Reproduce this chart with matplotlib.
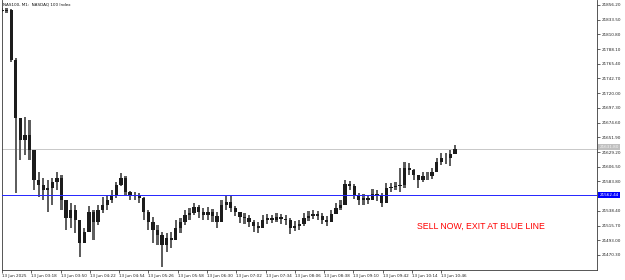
import matplotlib
matplotlib.use('Agg')
import matplotlib.pyplot as plt
import numpy as np
from matplotlib.transforms import blended_transform_factory

# ---------------- data ----------------
symbol_title = "NAS100, M1:  NASDAQ 100 Index"
bar_minutes = 5
first_open = 21848.5
closes = [21846.9, 21848.5, 21771.3, 21681.7, 21647.7, 21655.5, 21632.3, 21586.0, 21578.2, 21570.5,
          21573.6, 21582.9, 21589.1, 21555.1, 21527.3, 21539.6, 21524.2, 21488.7, 21505.7, 21536.5,
          21521.1, 21539.6, 21547.4, 21555.1, 21562.8, 21578.2, 21589.1, 21567.4, 21561.3, 21562.8,
          21558.2, 21536.5, 21521.1, 21508.8, 21501.0, 21485.6, 21496.4, 21493.3, 21511.8, 21521.1,
          21531.9, 21535.0, 21544.3, 21536.5, 21531.9, 21536.5, 21530.4, 21521.1, 21547.4, 21552.0,
          21542.7, 21536.5, 21528.8, 21527.3, 21521.1, 21514.9, 21511.8, 21524.2, 21527.3, 21524.2,
          21528.8, 21525.7, 21524.2, 21511.8, 21514.9, 21518.0, 21527.3, 21530.4, 21533.5, 21530.4,
          21524.2, 21521.1, 21533.5, 21542.7, 21547.4, 21579.8, 21576.7, 21562.8, 21555.1, 21558.2,
          21555.1, 21564.3, 21562.8, 21550.4, 21573.6, 21575.2, 21576.7, 21578.2, 21604.5, 21601.4,
          21593.7, 21586.0, 21592.1, 21592.1, 21598.3, 21613.8, 21619.9, 21619.9, 21626.1, 21634.6]
highs = [21851.6, 21851.6, 21850.0, 21774.4, 21666.3, 21683.3, 21678.6, 21632.3, 21598.3, 21589.1,
         21586.0, 21589.1, 21598.3, 21593.7, 21555.1, 21550.4, 21547.4, 21524.2, 21511.8, 21545.8,
         21539.6, 21547.4, 21559.7, 21562.8, 21570.5, 21582.9, 21596.8, 21592.1, 21569.0, 21567.4,
         21565.9, 21559.7, 21539.6, 21528.8, 21516.5, 21505.7, 21504.1, 21505.7, 21524.2, 21527.3,
         21539.6, 21542.7, 21550.4, 21547.4, 21542.7, 21544.3, 21541.2, 21536.5, 21555.1, 21561.3,
         21561.3, 21545.8, 21536.5, 21535.0, 21531.9, 21524.2, 21521.1, 21531.9, 21533.5, 21531.9,
         21535.0, 21533.5, 21531.9, 21527.3, 21522.7, 21524.2, 21535.0, 21538.1, 21539.6, 21538.1,
         21535.0, 21530.4, 21539.6, 21550.4, 21555.1, 21586.0, 21584.4, 21579.8, 21565.9, 21564.3,
         21562.8, 21572.1, 21570.5, 21565.9, 21581.3, 21581.3, 21582.9, 21604.5, 21613.8, 21612.2,
         21603.0, 21593.7, 21598.3, 21598.3, 21604.5, 21619.9, 21627.7, 21627.7, 21632.3, 21640.0]
lows = [21845.4, 21843.8, 21768.2, 21565.9, 21616.9, 21624.6, 21616.9, 21570.5, 21559.7, 21555.1,
        21536.5, 21547.4, 21570.5, 21539.6, 21508.8, 21511.8, 21504.1, 21467.1, 21493.3, 21505.7,
        21493.3, 21516.5, 21535.0, 21539.6, 21550.4, 21558.2, 21576.7, 21562.8, 21555.1, 21555.1,
        21550.4, 21524.2, 21508.8, 21488.7, 21485.6, 21451.6, 21474.8, 21481.0, 21493.3, 21504.1,
        21516.5, 21524.2, 21531.9, 21527.3, 21524.2, 21524.2, 21521.1, 21511.8, 21521.1, 21539.6,
        21536.5, 21530.4, 21519.6, 21518.0, 21513.4, 21505.7, 21504.1, 21514.9, 21518.0, 21519.6,
        21521.1, 21518.0, 21516.5, 21502.6, 21507.2, 21508.8, 21514.9, 21522.7, 21525.7, 21524.2,
        21518.0, 21514.9, 21524.2, 21533.5, 21539.6, 21547.4, 21570.5, 21556.6, 21547.4, 21547.4,
        21548.9, 21555.1, 21553.5, 21544.3, 21550.4, 21567.4, 21570.5, 21567.4, 21573.6, 21593.7,
        21586.0, 21573.6, 21582.9, 21586.0, 21587.5, 21598.3, 21609.1, 21610.7, 21607.6, 21626.1]
time_label_minutes = [0, 32, 64, 96, 128, 160, 192, 224, 256, 288, 320, 352, 384, 416, 448, 480]
time_labels = ["13 Jun 2025", "13 Jun 03:18", "13 Jun 03:50", "13 Jun 04:22", "13 Jun 04:54",
               "13 Jun 05:26", "13 Jun 05:58", "13 Jun 06:30", "13 Jun 07:02", "13 Jun 07:34",
               "13 Jun 08:06", "13 Jun 08:38", "13 Jun 09:10", "13 Jun 09:42", "13 Jun 10:14",
               "13 Jun 10:46"]
price_ticks = [21856.20, 21833.50, 21810.80, 21788.10, 21765.40, 21742.70, 21720.00, 21697.30,
               21674.60, 21651.90, 21629.20, 21606.50, 21583.80, 21538.40, 21515.70, 21493.00,
               21470.30]
exit_level = 21562.44
annotation = "SELL NOW, EXIT AT BLUE LINE"

# ---------------- figure ----------------
W, H = 625, 280
fig = plt.figure(figsize=(W / 100, H / 100), dpi=100)
ax = fig.add_axes([1.7 / W, 10 / H, (597 - 1.7) / W, 270 / H])

n = len(closes)
x = np.arange(n) * bar_minutes
o = np.array([first_open] + closes[:-1])
c = np.array(closes)
hi = np.array(highs)
lo = np.array(lows)

# high-low ranges (grey) and open-close bodies (near black)
ax.bar(x, hi - lo, bottom=lo, width=2.4, color='#5e5e5e', linewidth=0, zorder=2)
ax.bar(x, np.abs(c - o), bottom=np.minimum(o, c), width=3.6,
       color='#1c1c1c', linewidth=0, zorder=3)

ax.set_xlim(-0.33, 650.3)
ax.set_ylim(21447.0, 21863.9)

# horizontal lines
ax.axhline(closes[-1], color='#c8c8c8', lw=0.7, zorder=1)
ax.axhline(exit_level, color='#2424ff', lw=0.7, zorder=4)

# axes styling
for s in ['left', 'right', 'bottom']:
    ax.spines[s].set_color('#3a3a3a')
    ax.spines[s].set_linewidth(0.6)
ax.spines['top'].set_visible(False)

ax.yaxis.tick_right()
ax.set_yticks(price_ticks)
ax.set_yticklabels([f"{v:.2f}" for v in price_ticks])
ax.tick_params(axis='y', direction='out', length=2.2, width=0.5, pad=1, labelsize=3,
               colors='#222222')
ax.set_xticks(time_label_minutes)
ax.set_xticklabels(time_labels)
ax.tick_params(axis='x', direction='out', length=2.0, width=0.5, pad=0.8, labelsize=3,
               colors='#222222')
for lab in ax.get_xticklabels():
    lab.set_ha('left')

# price boxes on the axis
trans = blended_transform_factory(ax.transAxes, ax.transData)
ax.text(1.004, exit_level, f"{exit_level:.2f}", transform=trans, fontsize=3, color='white',
        va='center', ha='left', clip_on=False, zorder=10,
        bbox=dict(boxstyle='square,pad=0.25', fc='#0000ff', ec='none'))
ax.text(1.004, closes[-1] + 2.5, "21631.80", transform=trans, fontsize=3, color='#f4f4f4',
        va='center', ha='left', clip_on=False, zorder=10,
        bbox=dict(boxstyle='square,pad=0.25', fc='#c0c0c0', ec='none'))

# title and annotation
fig.text(3 / W, 1 - 4.5 / H, symbol_title, fontsize=3, va='center', ha='left', color='#111111')
fig.text(417 / W, 1 - 226.5 / H, annotation, fontsize=6.3, family='Liberation Sans',
         color='#ff0000', va='center', ha='left')

fig.savefig('out.png', dpi=100)
